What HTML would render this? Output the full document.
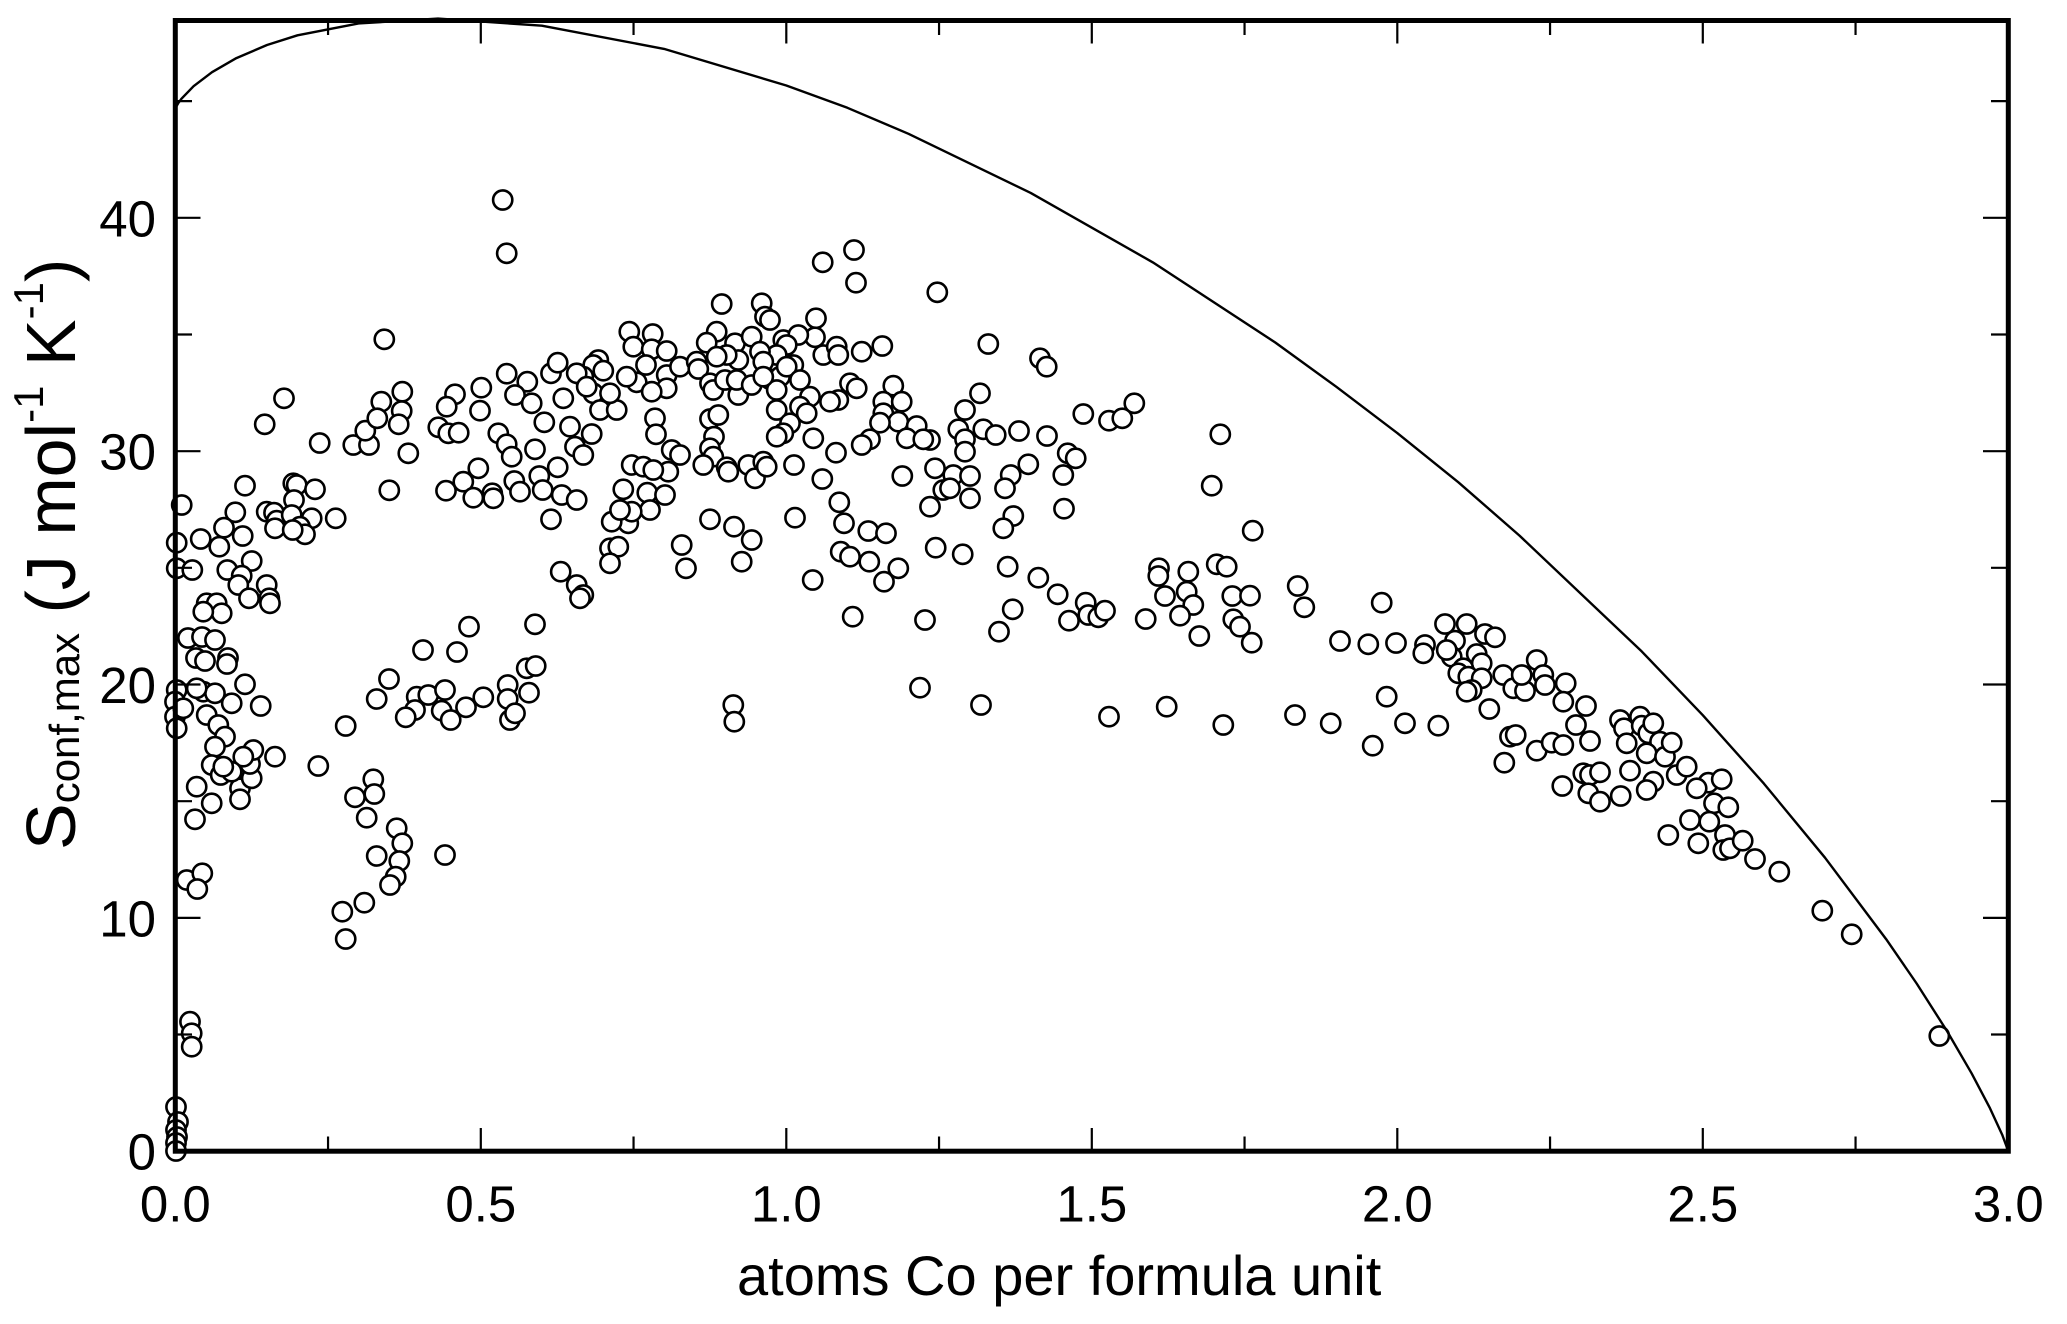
<!DOCTYPE html>
<html>
<head>
<meta charset="utf-8">
<style>
html,body{margin:0;padding:0;background:#fff;}
svg{display:block;}
text{font-family:"Liberation Sans",Arial,sans-serif;fill:#000;}
</style>
</head>
<body>
<svg xmlns="http://www.w3.org/2000/svg" width="2067" height="1324" viewBox="0 0 2067 1324">
<rect x="0" y="0" width="2067" height="1324" fill="#fff"/>

<!-- data points -->
<g fill="#fff" stroke="#000" stroke-width="2.6">
<!-- zoom4 -->
<circle cx="502.7" cy="200" r="9.6"/><circle cx="506.7" cy="253.3" r="9.6"/><circle cx="384.3" cy="339.3" r="9.6"/>
<circle cx="284" cy="398.3" r="9.6"/><circle cx="264.7" cy="424.3" r="9.6"/><circle cx="319.7" cy="443" r="9.6"/>
<circle cx="353.3" cy="445" r="9.6"/><circle cx="369" cy="445" r="9.6"/><circle cx="365.3" cy="430.7" r="9.6"/>
<circle cx="381.3" cy="401.7" r="9.6"/><circle cx="402.3" cy="391.7" r="9.6"/><circle cx="401.7" cy="411" r="9.6"/>
<circle cx="377.3" cy="418.3" r="9.6"/><circle cx="398.7" cy="424.3" r="9.6"/><circle cx="408.3" cy="453.3" r="9.6"/>
<circle cx="389.3" cy="490.3" r="9.6"/><circle cx="455" cy="394.3" r="9.6"/><circle cx="446.7" cy="406.7" r="9.6"/>
<circle cx="438.3" cy="427.3" r="9.6"/><circle cx="448.3" cy="433.3" r="9.6"/><circle cx="458.7" cy="432.7" r="9.6"/>
<circle cx="481.3" cy="387.7" r="9.6"/><circle cx="480" cy="410.7" r="9.6"/>
<circle cx="506.7" cy="373.7" r="9.6"/><circle cx="527.3" cy="381.7" r="9.6"/><circle cx="515" cy="395" r="9.6"/>
<circle cx="531.7" cy="403.3" r="9.6"/><circle cx="544.3" cy="422.3" r="9.6"/><circle cx="551" cy="373.3" r="9.6"/>
<circle cx="557.7" cy="362.7" r="9.6"/><circle cx="563.3" cy="398.3" r="9.6"/>
<circle cx="498.3" cy="433.3" r="9.6"/><circle cx="506.7" cy="444.3" r="9.6"/><circle cx="511.7" cy="456.7" r="9.6"/>
<circle cx="535" cy="449.3" r="9.6"/><circle cx="557.7" cy="467.3" r="9.6"/><circle cx="539.3" cy="476" r="9.6"/>
<circle cx="514.3" cy="481" r="9.6"/><circle cx="520" cy="491.7" r="9.6"/><circle cx="542.7" cy="490" r="9.6"/>
<circle cx="561.7" cy="495" r="9.6"/><circle cx="551" cy="519.3" r="9.6"/><circle cx="560.7" cy="571.7" r="9.6"/>
<circle cx="478.3" cy="468.3" r="9.6"/><circle cx="463.3" cy="481.7" r="9.6"/><circle cx="446" cy="490.7" r="9.6"/>
<circle cx="473.3" cy="497.7" r="9.6"/><circle cx="492.3" cy="493.3" r="9.6"/><circle cx="493.3" cy="498.3" r="9.6"/>
<circle cx="469" cy="626.7" r="9.6"/><circle cx="535" cy="624.3" r="9.6"/>
<circle cx="181.7" cy="505" r="9.6"/><circle cx="245" cy="485.7" r="9.6"/><circle cx="235.3" cy="512.3" r="9.6"/>
<circle cx="224" cy="527.7" r="9.6"/><circle cx="242.7" cy="536" r="9.6"/><circle cx="219.3" cy="546.7" r="9.6"/>
<circle cx="200.7" cy="539" r="9.6"/><circle cx="176.7" cy="542.7" r="9.6"/><circle cx="176.7" cy="568.3" r="9.6"/>
<circle cx="192.3" cy="570" r="9.6"/><circle cx="251.7" cy="561" r="9.6"/><circle cx="227.3" cy="570" r="9.6"/>
<circle cx="241.7" cy="575.7" r="9.6"/><circle cx="238.3" cy="585" r="9.6"/><circle cx="249" cy="598.3" r="9.6"/>
<circle cx="266.7" cy="585" r="9.6"/><circle cx="269.3" cy="598.3" r="9.6"/><circle cx="270" cy="603.3" r="9.6"/>
<circle cx="206.7" cy="603.3" r="9.6"/><circle cx="216.7" cy="603.3" r="9.6"/><circle cx="221.7" cy="613.3" r="9.6"/>
<circle cx="203.3" cy="611.7" r="9.6"/>
<circle cx="188" cy="638" r="9.6"/><circle cx="202" cy="637" r="9.6"/><circle cx="215" cy="640" r="9.6"/>
<circle cx="196" cy="658" r="9.6"/><circle cx="205" cy="661" r="9.6"/><circle cx="228" cy="658" r="9.6"/>
<circle cx="227" cy="664" r="9.6"/><circle cx="423" cy="650" r="9.6"/><circle cx="457" cy="652" r="9.6"/>
<circle cx="266.7" cy="511.7" r="9.6"/><circle cx="274" cy="512.7" r="9.6"/><circle cx="276.7" cy="520.7" r="9.6"/>
<circle cx="275" cy="528.3" r="9.6"/><circle cx="293.3" cy="483.3" r="9.6"/><circle cx="296.7" cy="485" r="9.6"/>
<circle cx="315" cy="489.3" r="9.6"/><circle cx="294" cy="500" r="9.6"/><circle cx="291.7" cy="515" r="9.6"/>
<circle cx="311.7" cy="518.3" r="9.6"/><circle cx="300" cy="526.7" r="9.6"/><circle cx="305" cy="534.3" r="9.6"/>
<circle cx="292.7" cy="530" r="9.6"/><circle cx="335.7" cy="518.3" r="9.6"/>
<!-- zoom5 -->
<circle cx="245" cy="684.3" r="9.6"/><circle cx="231.7" cy="703.3" r="9.6"/><circle cx="260.7" cy="706" r="9.6"/>
<circle cx="203.3" cy="691.7" r="9.6"/><circle cx="215" cy="693.3" r="9.6"/><circle cx="196.7" cy="688.3" r="9.6"/>
<circle cx="176.7" cy="690" r="9.6"/><circle cx="175" cy="701.7" r="9.6"/><circle cx="175" cy="716.7" r="9.6"/>
<circle cx="176.7" cy="728.3" r="9.6"/><circle cx="183.3" cy="708.3" r="9.6"/>
<circle cx="206.7" cy="715" r="9.6"/><circle cx="218.3" cy="725" r="9.6"/><circle cx="225" cy="736.7" r="9.6"/>
<circle cx="215" cy="746.7" r="9.6"/><circle cx="211.7" cy="765" r="9.6"/><circle cx="220.7" cy="775" r="9.6"/>
<circle cx="196.7" cy="786.7" r="9.6"/><circle cx="195" cy="819.3" r="9.6"/><circle cx="211.7" cy="803.3" r="9.6"/>
<circle cx="240" cy="788.3" r="9.6"/><circle cx="240" cy="799.3" r="9.6"/><circle cx="251.7" cy="778.3" r="9.6"/>
<circle cx="250" cy="764" r="9.6"/><circle cx="253.3" cy="750" r="9.6"/><circle cx="243.3" cy="756.7" r="9.6"/>
<circle cx="275" cy="756.7" r="9.6"/><circle cx="231.7" cy="771.7" r="9.6"/><circle cx="223.3" cy="766.7" r="9.6"/>
<circle cx="318.3" cy="766" r="9.6"/><circle cx="345.7" cy="726" r="9.6"/>
<circle cx="389" cy="679" r="9.6"/><circle cx="376.7" cy="699" r="9.6"/><circle cx="416.7" cy="696.7" r="9.6"/>
<circle cx="428.3" cy="695" r="9.6"/><circle cx="445" cy="690" r="9.6"/><circle cx="415" cy="710" r="9.6"/>
<circle cx="405.7" cy="717.3" r="9.6"/><circle cx="441.7" cy="710.7" r="9.6"/><circle cx="450.7" cy="720" r="9.6"/>
<circle cx="466" cy="707.3" r="9.6"/><circle cx="483.3" cy="697.3" r="9.6"/><circle cx="507.7" cy="685" r="9.6"/>
<circle cx="507.7" cy="699" r="9.6"/><circle cx="510" cy="720" r="9.6"/><circle cx="515" cy="713.3" r="9.6"/>
<circle cx="526.7" cy="668.3" r="9.6"/><circle cx="535.7" cy="666" r="9.6"/><circle cx="529" cy="692.7" r="9.6"/>
<circle cx="373.3" cy="779.3" r="9.6"/><circle cx="355" cy="797.3" r="9.6"/><circle cx="374.3" cy="794" r="9.6"/>
<circle cx="366.7" cy="817.7" r="9.6"/><circle cx="396.7" cy="828.3" r="9.6"/><circle cx="402.3" cy="843.3" r="9.6"/>
<circle cx="376.7" cy="856" r="9.6"/><circle cx="399.3" cy="861" r="9.6"/><circle cx="395.7" cy="876.7" r="9.6"/>
<circle cx="390" cy="885" r="9.6"/><circle cx="364.3" cy="902.7" r="9.6"/><circle cx="342.3" cy="911.7" r="9.6"/>
<circle cx="345.7" cy="939" r="9.6"/><circle cx="445" cy="855" r="9.6"/>
<circle cx="186.7" cy="880" r="9.6"/><circle cx="202.3" cy="873.3" r="9.6"/><circle cx="197.3" cy="889" r="9.6"/>
<circle cx="190" cy="1021.7" r="9.6"/><circle cx="191.7" cy="1033.3" r="9.6"/><circle cx="191.7" cy="1046.7" r="9.6"/>
<circle cx="176" cy="1107" r="9.6"/><circle cx="178" cy="1122" r="9.6"/><circle cx="176" cy="1130" r="9.6"/>
<circle cx="177" cy="1137" r="9.6"/><circle cx="176" cy="1143" r="9.6"/><circle cx="176" cy="1151" r="9.6"/>
<!-- zoom6 -->
<circle cx="854" cy="250" r="9.6"/><circle cx="822.7" cy="262.3" r="9.6"/><circle cx="856" cy="282.7" r="9.6"/>
<circle cx="937.3" cy="292.3" r="9.6"/><circle cx="721.7" cy="304" r="9.6"/><circle cx="761.7" cy="303.3" r="9.6"/>
<circle cx="765" cy="316.7" r="9.6"/><circle cx="770" cy="320" r="9.6"/><circle cx="816" cy="318.3" r="9.6"/>
<circle cx="815" cy="337.3" r="9.6"/>
<circle cx="629.3" cy="331.7" r="9.6"/><circle cx="652.7" cy="334" r="9.6"/><circle cx="633.3" cy="346.7" r="9.6"/>
<circle cx="651.7" cy="349.3" r="9.6"/><circle cx="666.7" cy="351" r="9.6"/>
<circle cx="716.7" cy="331.7" r="9.6"/><circle cx="706.7" cy="342.7" r="9.6"/><circle cx="735" cy="343.3" r="9.6"/>
<circle cx="751.7" cy="336.7" r="9.6"/><circle cx="738.3" cy="360" r="9.6"/><circle cx="726.7" cy="355" r="9.6"/>
<circle cx="716.7" cy="356.7" r="9.6"/>
<circle cx="783.3" cy="340" r="9.6"/><circle cx="798.3" cy="335" r="9.6"/><circle cx="786.7" cy="345" r="9.6"/>
<circle cx="776.7" cy="355" r="9.6"/><circle cx="760" cy="351.7" r="9.6"/><circle cx="763.3" cy="361.7" r="9.6"/>
<circle cx="793.3" cy="365" r="9.6"/>
<circle cx="823.3" cy="355" r="9.6"/><circle cx="836.7" cy="346.7" r="9.6"/><circle cx="838.3" cy="355" r="9.6"/>
<circle cx="861.7" cy="351.7" r="9.6"/><circle cx="882.3" cy="346" r="9.6"/><circle cx="988.3" cy="344" r="9.6"/>
<circle cx="598.3" cy="360" r="9.6"/><circle cx="593.3" cy="365" r="9.6"/><circle cx="603.3" cy="370.7" r="9.6"/>
<circle cx="583.3" cy="376.7" r="9.6"/><circle cx="576.7" cy="373.3" r="9.6"/>
<circle cx="646" cy="365" r="9.6"/><circle cx="636.7" cy="382.3" r="9.6"/><circle cx="666.7" cy="375" r="9.6"/>
<circle cx="666.7" cy="388.3" r="9.6"/><circle cx="626.7" cy="376.7" r="9.6"/><circle cx="651.7" cy="391.7" r="9.6"/>
<circle cx="680" cy="366.7" r="9.6"/><circle cx="696.7" cy="361.7" r="9.6"/><circle cx="698.3" cy="369" r="9.6"/>
<circle cx="710" cy="383.3" r="9.6"/><circle cx="713.3" cy="390" r="9.6"/><circle cx="725" cy="380" r="9.6"/>
<circle cx="738.3" cy="395" r="9.6"/><circle cx="736.7" cy="380" r="9.6"/><circle cx="751.7" cy="385" r="9.6"/>
<circle cx="770" cy="379.3" r="9.6"/><circle cx="780" cy="376.7" r="9.6"/><circle cx="776.7" cy="390" r="9.6"/>
<circle cx="763.3" cy="376.7" r="9.6"/><circle cx="786.7" cy="366.7" r="9.6"/>
<circle cx="593.3" cy="393.3" r="9.6"/><circle cx="600" cy="410" r="9.6"/><circle cx="616.7" cy="410" r="9.6"/>
<circle cx="610" cy="393.3" r="9.6"/><circle cx="586.7" cy="386.7" r="9.6"/>
<circle cx="800" cy="380" r="9.6"/><circle cx="810" cy="396.7" r="9.6"/><circle cx="776.7" cy="410" r="9.6"/>
<circle cx="800" cy="406.7" r="9.6"/><circle cx="806.7" cy="413.3" r="9.6"/><circle cx="790" cy="423.3" r="9.6"/>
<circle cx="783.3" cy="433.3" r="9.6"/><circle cx="776.7" cy="436.7" r="9.6"/><circle cx="813.3" cy="438.3" r="9.6"/>
<circle cx="838.3" cy="400" r="9.6"/><circle cx="850" cy="383.3" r="9.6"/><circle cx="856.7" cy="388.3" r="9.6"/>
<circle cx="830" cy="401.7" r="9.6"/>
<circle cx="893.3" cy="385.7" r="9.6"/><circle cx="883.3" cy="401.7" r="9.6"/><circle cx="901.7" cy="401.7" r="9.6"/>
<circle cx="883.3" cy="413.3" r="9.6"/><circle cx="898.3" cy="421.7" r="9.6"/><circle cx="880" cy="422.7" r="9.6"/>
<circle cx="916.7" cy="426" r="9.6"/><circle cx="906.7" cy="438.3" r="9.6"/><circle cx="930" cy="440" r="9.6"/>
<circle cx="923.3" cy="439.3" r="9.6"/><circle cx="870" cy="439.3" r="9.6"/><circle cx="861.7" cy="445" r="9.6"/>
<circle cx="980" cy="393.3" r="9.6"/><circle cx="965" cy="410" r="9.6"/><circle cx="958.3" cy="429.3" r="9.6"/>
<circle cx="965" cy="439.3" r="9.6"/><circle cx="965" cy="451.7" r="9.6"/><circle cx="983.3" cy="429.3" r="9.6"/>
<circle cx="570" cy="426.7" r="9.6"/><circle cx="591.7" cy="434" r="9.6"/><circle cx="575" cy="446.7" r="9.6"/>
<circle cx="583.3" cy="455" r="9.6"/><circle cx="655" cy="418.3" r="9.6"/><circle cx="656" cy="434.3" r="9.6"/>
<circle cx="710" cy="419" r="9.6"/><circle cx="718.3" cy="415" r="9.6"/><circle cx="714" cy="436.7" r="9.6"/>
<circle cx="710" cy="448.3" r="9.6"/><circle cx="713.3" cy="456.7" r="9.6"/><circle cx="703.3" cy="465" r="9.6"/>
<circle cx="671.7" cy="450" r="9.6"/><circle cx="680" cy="455" r="9.6"/><circle cx="668.3" cy="471.7" r="9.6"/>
<circle cx="631.7" cy="465" r="9.6"/><circle cx="643.3" cy="466.7" r="9.6"/><circle cx="653.3" cy="470" r="9.6"/>
<circle cx="726.7" cy="467.3" r="9.6"/><circle cx="728.3" cy="471.7" r="9.6"/><circle cx="748.3" cy="465" r="9.6"/>
<circle cx="755" cy="478.3" r="9.6"/><circle cx="763.3" cy="461.7" r="9.6"/><circle cx="766.7" cy="466.7" r="9.6"/>
<circle cx="794" cy="465" r="9.6"/><circle cx="836" cy="452.7" r="9.6"/><circle cx="822.3" cy="479" r="9.6"/>
<circle cx="902.3" cy="476" r="9.6"/><circle cx="935" cy="468.3" r="9.6"/><circle cx="953.3" cy="475" r="9.6"/>
<circle cx="970" cy="476" r="9.6"/><circle cx="943.3" cy="490" r="9.6"/><circle cx="950" cy="488.3" r="9.6"/>
<circle cx="930" cy="506.7" r="9.6"/><circle cx="970" cy="498.3" r="9.6"/>
<circle cx="576.7" cy="500" r="9.6"/><circle cx="623.3" cy="489.3" r="9.6"/><circle cx="647.3" cy="492.7" r="9.6"/>
<circle cx="665" cy="495" r="9.6"/><circle cx="650" cy="510" r="9.6"/><circle cx="628.3" cy="523.3" r="9.6"/>
<circle cx="611.7" cy="521.7" r="9.6"/><circle cx="631.7" cy="511.7" r="9.6"/><circle cx="620" cy="510" r="9.6"/>
<circle cx="710" cy="519.3" r="9.6"/><circle cx="734" cy="526.7" r="9.6"/><circle cx="751.7" cy="540" r="9.6"/>
<circle cx="741.7" cy="561.7" r="9.6"/><circle cx="681.7" cy="545" r="9.6"/><circle cx="686" cy="568.3" r="9.6"/>
<circle cx="795" cy="517.7" r="9.6"/>
<circle cx="839.3" cy="502.3" r="9.6"/><circle cx="844" cy="523.3" r="9.6"/><circle cx="868.3" cy="531" r="9.6"/>
<circle cx="886" cy="533.3" r="9.6"/><circle cx="840.7" cy="551.7" r="9.6"/><circle cx="850" cy="556.7" r="9.6"/>
<circle cx="869.3" cy="561.7" r="9.6"/><circle cx="898.3" cy="568.3" r="9.6"/><circle cx="884" cy="581.7" r="9.6"/>
<circle cx="610" cy="548.3" r="9.6"/><circle cx="618.3" cy="546.7" r="9.6"/><circle cx="610" cy="563.3" r="9.6"/>
<circle cx="812.7" cy="580" r="9.6"/><circle cx="935.7" cy="547.7" r="9.6"/><circle cx="962.7" cy="554.3" r="9.6"/>
<circle cx="576.7" cy="585" r="9.6"/><circle cx="583.3" cy="595" r="9.6"/><circle cx="580" cy="598.3" r="9.6"/>
<circle cx="852.7" cy="616.7" r="9.6"/><circle cx="925" cy="620" r="9.6"/>
<!-- zoom7 -->
<circle cx="733.3" cy="705" r="9.6"/><circle cx="734.3" cy="721.7" r="9.6"/><circle cx="920" cy="687.7" r="9.6"/>
<circle cx="981" cy="705" r="9.6"/>
<!-- zoom8 -->
<circle cx="1040" cy="358.3" r="9.6"/><circle cx="1046.7" cy="366.7" r="9.6"/>
<circle cx="1083.3" cy="414" r="9.6"/><circle cx="1109" cy="420.7" r="9.6"/><circle cx="1122.3" cy="418.3" r="9.6"/>
<circle cx="1134.3" cy="403.3" r="9.6"/>
<circle cx="995.7" cy="435" r="9.6"/><circle cx="1019" cy="431" r="9.6"/><circle cx="1047" cy="436" r="9.6"/>
<circle cx="1067.7" cy="453.3" r="9.6"/><circle cx="1075.7" cy="458.3" r="9.6"/><circle cx="1028.3" cy="464.3" r="9.6"/>
<circle cx="1010.7" cy="475" r="9.6"/><circle cx="1005" cy="488.3" r="9.6"/><circle cx="1063.3" cy="475" r="9.6"/>
<circle cx="1064" cy="508.7" r="9.6"/><circle cx="1013.3" cy="516" r="9.6"/><circle cx="1003.3" cy="528.3" r="9.6"/>
<circle cx="1220.3" cy="434.3" r="9.6"/><circle cx="1211.7" cy="485.7" r="9.6"/><circle cx="1252.7" cy="530.7" r="9.6"/>
<circle cx="1007.7" cy="566.7" r="9.6"/><circle cx="1038.3" cy="577.7" r="9.6"/><circle cx="1057.7" cy="594.3" r="9.6"/>
<circle cx="1012.7" cy="609.3" r="9.6"/><circle cx="999" cy="631.7" r="9.6"/><circle cx="1069" cy="620.7" r="9.6"/>
<circle cx="1085.7" cy="602.7" r="9.6"/><circle cx="1088.3" cy="615" r="9.6"/><circle cx="1098.3" cy="617.3" r="9.6"/>
<circle cx="1105" cy="610.7" r="9.6"/><circle cx="1145.7" cy="619" r="9.6"/>
<circle cx="1159" cy="568.3" r="9.6"/><circle cx="1158.3" cy="576" r="9.6"/><circle cx="1165" cy="596" r="9.6"/>
<circle cx="1188.3" cy="571.7" r="9.6"/><circle cx="1186.7" cy="591.7" r="9.6"/><circle cx="1193.3" cy="605" r="9.6"/>
<circle cx="1180" cy="615.7" r="9.6"/><circle cx="1199.3" cy="636" r="9.6"/>
<circle cx="1216.7" cy="564.3" r="9.6"/><circle cx="1226.7" cy="566.7" r="9.6"/><circle cx="1232.3" cy="596" r="9.6"/>
<circle cx="1250" cy="595.7" r="9.6"/><circle cx="1233.3" cy="619.3" r="9.6"/><circle cx="1240" cy="626.7" r="9.6"/>
<circle cx="1251.7" cy="642.7" r="9.6"/>
<circle cx="1297.7" cy="586" r="9.6"/><circle cx="1304.3" cy="607.3" r="9.6"/><circle cx="1381.7" cy="602.7" r="9.6"/>
<circle cx="1340" cy="641" r="9.6"/><circle cx="1368.3" cy="644.3" r="9.6"/><circle cx="1396" cy="643" r="9.6"/>
<circle cx="1109" cy="716.7" r="9.6"/><circle cx="1166.7" cy="706.7" r="9.6"/><circle cx="1223.3" cy="725" r="9.6"/>
<circle cx="1295" cy="715" r="9.6"/><circle cx="1330.7" cy="723.3" r="9.6"/><circle cx="1372.7" cy="745.7" r="9.6"/>
<circle cx="1386.7" cy="696.7" r="9.6"/><circle cx="1405" cy="723.3" r="9.6"/>
<!-- zoom9 -->
<circle cx="1425" cy="645" r="9.6"/><circle cx="1423.3" cy="653.3" r="9.6"/>
<circle cx="1445" cy="624" r="9.6"/><circle cx="1466.7" cy="624" r="9.6"/><circle cx="1485" cy="634" r="9.6"/>
<circle cx="1495" cy="637.3" r="9.6"/><circle cx="1455" cy="640.7" r="9.6"/><circle cx="1451.7" cy="656.7" r="9.6"/>
<circle cx="1476.7" cy="654" r="9.6"/><circle cx="1481.7" cy="663.3" r="9.6"/><circle cx="1463.3" cy="668.3" r="9.6"/>
<circle cx="1458.3" cy="673.3" r="9.6"/><circle cx="1468.3" cy="676.7" r="9.6"/><circle cx="1481.7" cy="678.3" r="9.6"/>
<circle cx="1471.7" cy="690" r="9.6"/><circle cx="1466.7" cy="691.7" r="9.6"/><circle cx="1446.7" cy="650" r="9.6"/>
<circle cx="1489.3" cy="709" r="9.6"/><circle cx="1438.3" cy="725.7" r="9.6"/>
<circle cx="1503.3" cy="675" r="9.6"/><circle cx="1513.3" cy="688.3" r="9.6"/><circle cx="1525" cy="691" r="9.6"/>
<circle cx="1521.7" cy="675" r="9.6"/><circle cx="1536.7" cy="660" r="9.6"/><circle cx="1543.3" cy="675" r="9.6"/>
<circle cx="1545" cy="685" r="9.6"/><circle cx="1565.7" cy="683.3" r="9.6"/><circle cx="1563.3" cy="701.7" r="9.6"/>
<circle cx="1586" cy="706" r="9.6"/><circle cx="1576" cy="725" r="9.6"/><circle cx="1590" cy="741" r="9.6"/>
<circle cx="1510" cy="736.7" r="9.6"/><circle cx="1515.7" cy="735" r="9.6"/><circle cx="1504.3" cy="762.7" r="9.6"/>
<circle cx="1536.7" cy="750.7" r="9.6"/><circle cx="1551.7" cy="742.7" r="9.6"/><circle cx="1563.3" cy="745" r="9.6"/>
<circle cx="1562.3" cy="786" r="9.6"/><circle cx="1583.3" cy="773.3" r="9.6"/><circle cx="1590" cy="775" r="9.6"/>
<circle cx="1600" cy="772.3" r="9.6"/><circle cx="1588.3" cy="793.3" r="9.6"/><circle cx="1600" cy="801.7" r="9.6"/>
<circle cx="1620.7" cy="796" r="9.6"/><circle cx="1630" cy="770.7" r="9.6"/>
<circle cx="1620" cy="720" r="9.6"/><circle cx="1624" cy="728.3" r="9.6"/><circle cx="1640" cy="716.7" r="9.6"/>
<circle cx="1641.7" cy="725.7" r="9.6"/><circle cx="1648.3" cy="733.3" r="9.6"/><circle cx="1653.3" cy="723.3" r="9.6"/>
<circle cx="1660" cy="741.7" r="9.6"/><circle cx="1626.7" cy="743.3" r="9.6"/><circle cx="1646.7" cy="753.3" r="9.6"/>
<circle cx="1665" cy="756.7" r="9.6"/><circle cx="1671.7" cy="742.7" r="9.6"/><circle cx="1676.7" cy="775" r="9.6"/>
<circle cx="1653.3" cy="781.7" r="9.6"/><circle cx="1646.7" cy="790" r="9.6"/>
<circle cx="1686.7" cy="766.7" r="9.6"/><circle cx="1668.3" cy="835" r="9.6"/>
<!-- zoom10 -->
<circle cx="1708.3" cy="782.7" r="9.6"/><circle cx="1721.7" cy="779.3" r="9.6"/><circle cx="1696.7" cy="788.3" r="9.6"/>
<circle cx="1714" cy="803.3" r="9.6"/><circle cx="1728.3" cy="807.3" r="9.6"/><circle cx="1690" cy="820" r="9.6"/>
<circle cx="1709.3" cy="821.7" r="9.6"/><circle cx="1725" cy="835" r="9.6"/><circle cx="1698.3" cy="843.3" r="9.6"/>
<circle cx="1723.3" cy="850" r="9.6"/><circle cx="1730" cy="848.3" r="9.6"/><circle cx="1742.7" cy="840.7" r="9.6"/>
<circle cx="1755" cy="859" r="9.6"/><circle cx="1779.3" cy="871.7" r="9.6"/><circle cx="1822.3" cy="910.7" r="9.6"/>
<circle cx="1851.7" cy="934.3" r="9.6"/><circle cx="1939.3" cy="1036" r="9.6"/>
</g>

<!-- maximum entropy curve -->
<polyline fill="none" stroke="#000" stroke-width="2.4" stroke-linejoin="round"
points="175.3,108.3 178.4,102.9 181.4,98.8 193.6,86.2 212,72.2 236.4,58.1 267,45 297.5,35.3 358.6,23.4 438,18.6 541.9,25.7 664.1,48.9 786.3,85.5 847.4,107.8 908.5,133.8 1030.7,192.9 1152.9,262.4 1275.1,342.4 1336.2,386.7 1397.3,433.1 1458.4,482.3 1519.5,535.6 1641.7,651.4 1702.8,715.2 1763.9,783.6 1825,857.7 1886.1,939.1 1916.65,983.5 1947.2,1031.4 1971.6,1073.3 1989.97,1108.2 2002.2,1134.7 2008.3,1151.2"/>

<!-- axes frame -->
<rect x="175.3" y="20.5" width="1833" height="1130.7" fill="none" stroke="#000" stroke-width="5"/>

<!-- ticks -->
<g stroke="#000" stroke-width="2.2">
<!-- bottom major / minor -->
<line x1="480.8" y1="1151" x2="480.8" y2="1128"/><line x1="786.3" y1="1151" x2="786.3" y2="1128"/>
<line x1="1091.8" y1="1151" x2="1091.8" y2="1128"/><line x1="1397.3" y1="1151" x2="1397.3" y2="1128"/>
<line x1="1702.8" y1="1151" x2="1702.8" y2="1128"/>
<line x1="328.05" y1="1151" x2="328.05" y2="1136.5"/><line x1="633.55" y1="1151" x2="633.55" y2="1136.5"/>
<line x1="939.05" y1="1151" x2="939.05" y2="1136.5"/><line x1="1244.55" y1="1151" x2="1244.55" y2="1136.5"/>
<line x1="1550.05" y1="1151" x2="1550.05" y2="1136.5"/><line x1="1855.55" y1="1151" x2="1855.55" y2="1136.5"/>
<!-- top -->
<line x1="480.8" y1="20.5" x2="480.8" y2="43.5"/><line x1="786.3" y1="20.5" x2="786.3" y2="43.5"/>
<line x1="1091.8" y1="20.5" x2="1091.8" y2="43.5"/><line x1="1397.3" y1="20.5" x2="1397.3" y2="43.5"/>
<line x1="1702.8" y1="20.5" x2="1702.8" y2="43.5"/>
<line x1="328.05" y1="20.5" x2="328.05" y2="35"/><line x1="633.55" y1="20.5" x2="633.55" y2="35"/>
<line x1="939.05" y1="20.5" x2="939.05" y2="35"/><line x1="1244.55" y1="20.5" x2="1244.55" y2="35"/>
<line x1="1550.05" y1="20.5" x2="1550.05" y2="35"/><line x1="1855.55" y1="20.5" x2="1855.55" y2="35"/>
<!-- left -->
<line x1="175.3" y1="917.9" x2="200.5" y2="917.9"/><line x1="175.3" y1="684.5" x2="200.5" y2="684.5"/>
<line x1="175.3" y1="451.2" x2="200.5" y2="451.2"/><line x1="175.3" y1="217.8" x2="200.5" y2="217.8"/>
<line x1="175.3" y1="1034.5" x2="192" y2="1034.5"/><line x1="175.3" y1="801.2" x2="192" y2="801.2"/>
<line x1="175.3" y1="567.8" x2="192" y2="567.8"/><line x1="175.3" y1="334.5" x2="192" y2="334.5"/>
<line x1="175.3" y1="101.1" x2="192" y2="101.1"/>
<!-- right -->
<line x1="2008.3" y1="917.9" x2="1983" y2="917.9"/><line x1="2008.3" y1="684.5" x2="1983" y2="684.5"/>
<line x1="2008.3" y1="451.2" x2="1983" y2="451.2"/><line x1="2008.3" y1="217.8" x2="1983" y2="217.8"/>
<line x1="2008.3" y1="1034.5" x2="1991" y2="1034.5"/><line x1="2008.3" y1="801.2" x2="1991" y2="801.2"/>
<line x1="2008.3" y1="567.8" x2="1991" y2="567.8"/><line x1="2008.3" y1="334.5" x2="1991" y2="334.5"/>
<line x1="2008.3" y1="101.1" x2="1991" y2="101.1"/>
</g>

<!-- y tick labels -->
<g font-size="51" text-anchor="end">
<text x="156" y="1169.7">0</text>
<text x="156" y="936.4">10</text>
<text x="156" y="703">20</text>
<text x="156" y="469.7">30</text>
<text x="156" y="236.3">40</text>
</g>

<!-- x tick labels -->
<g font-size="51" text-anchor="middle">
<text x="175.3" y="1221.7">0.0</text>
<text x="480.8" y="1221.7">0.5</text>
<text x="786.3" y="1221.7">1.0</text>
<text x="1091.8" y="1221.7">1.5</text>
<text x="1397.3" y="1221.7">2.0</text>
<text x="1702.8" y="1221.7">2.5</text>
<text x="2008.3" y="1221.7">3.0</text>
</g>

<!-- x axis title -->
<text x="737" y="1295" font-size="56">atoms Co per formula unit</text>

<!-- y axis title -->
<text transform="translate(75,850) rotate(-90)" font-size="70">S<tspan font-size="42" dy="4">conf,max</tspan><tspan dy="-4"> (J mol</tspan><tspan font-size="42" dy="-32">-1</tspan><tspan dy="32"> K</tspan><tspan font-size="42" dy="-32">-1</tspan><tspan dy="32">)</tspan></text>
</svg>
</body>
</html>
